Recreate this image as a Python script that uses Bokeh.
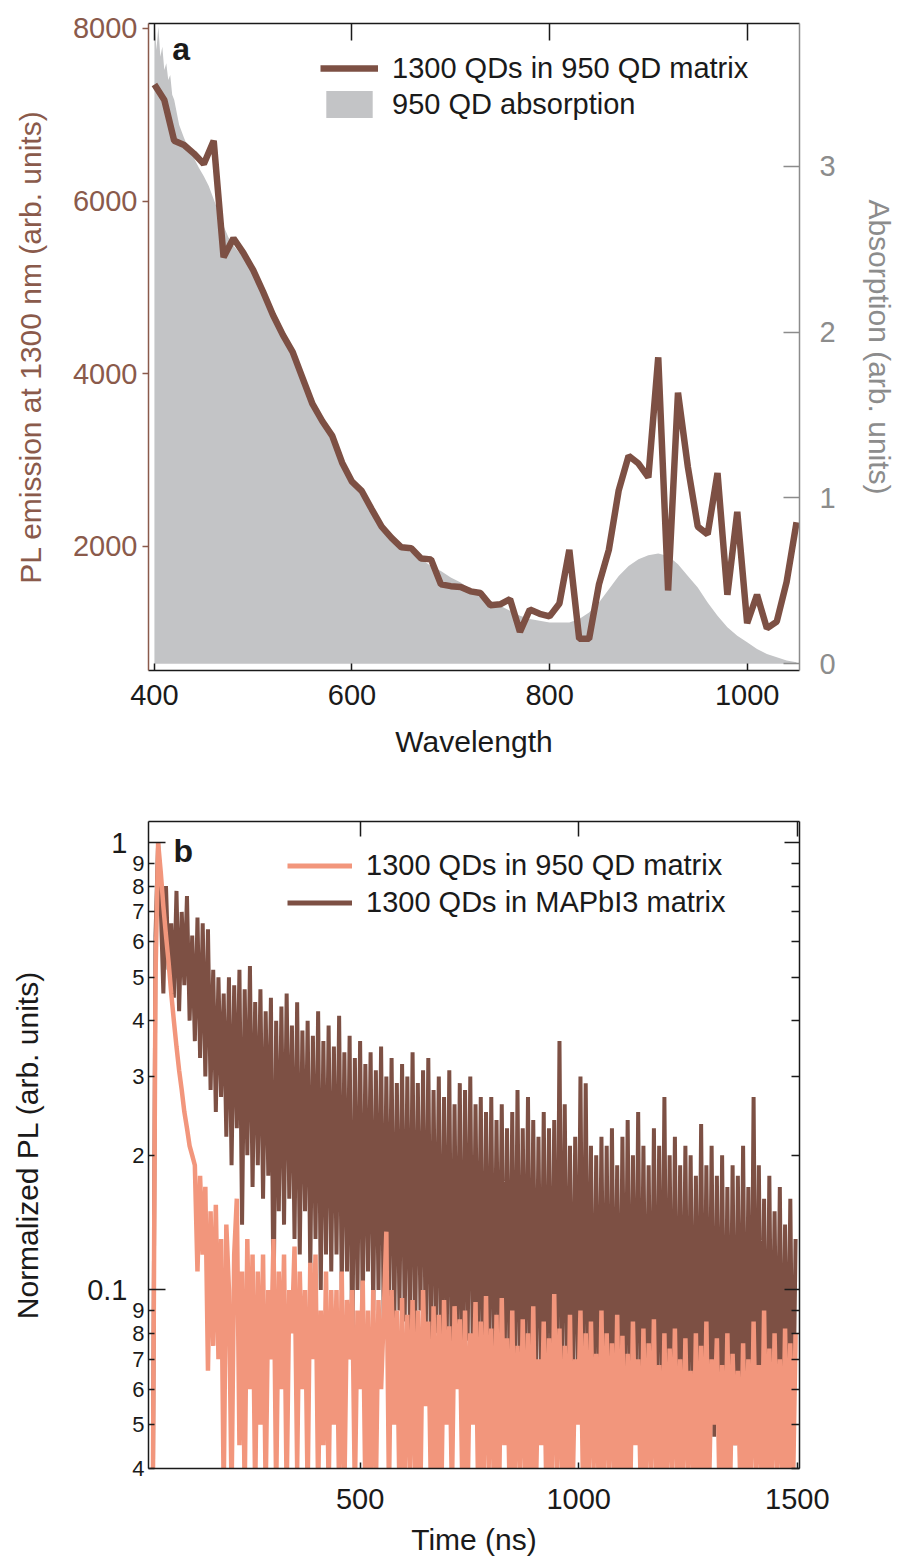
import numpy as np
from bokeh.plotting import figure
from bokeh.models import (Range1d, LinearAxis, LogAxis, FixedTicker, CustomJSTickFormatter,
                          Legend, LegendItem, Label, CustomLabelingPolicy)
from bokeh.layouts import column
from bokeh.embed import file_html
from bokeh.resources import INLINE

# ---------------- data: panel a ----------------
pl_wavelength = [400, 410, 420, 430, 440, 450, 460, 470, 480, 490,
                 500, 510, 520, 530, 540, 550, 560, 570, 580, 590,
                 600, 610, 620, 630, 640, 650, 660, 670, 680, 690,
                 700, 710, 720, 730, 740, 750, 760, 770, 780, 790,
                 800, 810, 820, 830, 840, 850, 860, 870, 880, 890,
                 900, 910, 920, 930, 940, 950, 960, 970, 980, 990,
                 1000, 1010, 1020, 1030, 1040, 1050]
pl_emission = [7350, 7170, 6700, 6650, 6550, 6430, 6700, 5350, 5570, 5400,
               5200, 4950, 4680, 4450, 4250, 3950, 3650, 3450, 3280, 2970,
               2750, 2640, 2430, 2230, 2100, 1990, 1980, 1860, 1850, 1560,
               1540, 1530, 1480, 1460, 1320, 1330, 1390, 1010, 1270, 1220,
               1190, 1340, 1960, 930, 930, 1560, 1960, 2650, 3050, 2960,
               2800, 4190, 1490, 3780, 2920, 2230, 2140, 2850, 1440, 2400,
               1110, 1440, 1050, 1130, 1590, 2280]

abs_wavelength = [400, 402, 404, 406, 408, 410, 412, 414, 416, 418,
                  420, 425, 430, 435, 440, 445, 450, 455, 460, 465,
                  470, 475, 480, 490, 500, 510, 520, 530, 540, 550,
                  560, 570, 580, 590, 600, 610, 620, 630, 640, 650,
                  660, 670, 680, 690, 700, 710, 720, 730, 740, 750,
                  760, 770, 780, 790, 800, 810, 820, 830, 840, 850,
                  860, 870, 880, 890, 900, 910, 920, 930, 940, 950,
                  960, 970, 980, 990, 1000, 1010, 1020, 1030, 1040, 1050]
absorption = [3.90, 3.70, 3.84, 3.66, 3.72, 3.58, 3.62, 3.52, 3.55, 3.43,
              3.40, 3.25, 3.17, 3.10, 3.05, 2.99, 2.94, 2.88, 2.80, 2.72,
              2.64, 2.57, 2.52, 2.45, 2.36, 2.25, 2.14, 2.02, 1.89, 1.73,
              1.58, 1.46, 1.36, 1.23, 1.12, 1.02, 0.91, 0.84, 0.78, 0.72,
              0.67, 0.63, 0.59, 0.56, 0.52, 0.49, 0.45, 0.41, 0.38, 0.35,
              0.32, 0.29, 0.27, 0.26, 0.25, 0.25, 0.25, 0.27, 0.31, 0.37,
              0.45, 0.53, 0.59, 0.63, 0.655, 0.665, 0.65, 0.60, 0.53, 0.46,
              0.37, 0.29, 0.22, 0.17, 0.13, 0.09, 0.06, 0.04, 0.02, 0.01]

# ---------------- data: panel b ----------------
pl_mapbi3 = [
    0.035, 0.035, 0.62, 1.0, 0.72, 0.46, 0.80, 0.52, 0.66, 0.45,
    0.78, 0.42, 0.70, 0.48, 0.76, 0.40, 0.62, 0.36, 0.68, 0.33,
    0.66, 0.30, 0.64, 0.28, 0.52, 0.25, 0.50, 0.27, 0.46, 0.22,
    0.50, 0.19, 0.48, 0.23, 0.52, 0.14, 0.47, 0.20, 0.53, 0.17,
    0.44, 0.19, 0.47, 0.16, 0.42, 0.18, 0.45, 0.09, 0.40, 0.15,
    0.43, 0.14, 0.46, 0.16, 0.39, 0.13, 0.44, 0.12, 0.38, 0.15,
    0.40, 0.11, 0.37, 0.13, 0.42, 0.10, 0.36, 0.12, 0.39, 0.11,
    0.35, 0.12, 0.41, 0.10, 0.34, 0.11, 0.37, 0.07, 0.33, 0.10,
    0.36, 0.09, 0.32, 0.11, 0.34, 0.09, 0.31, 0.10, 0.35, 0.085,
    0.30, 0.095, 0.33, 0.08, 0.29, 0.09, 0.32, 0.085, 0.30, 0.08,
    0.34, 0.08, 0.29, 0.09, 0.31, 0.075, 0.33, 0.07, 0.28, 0.08,
    0.30, 0.065, 0.27, 0.075, 0.31, 0.06, 0.26, 0.07, 0.29, 0.057,
    0.28, 0.077, 0.30, 0.065, 0.26, 0.07, 0.27, 0.06, 0.25, 0.068,
    0.27, 0.062, 0.24, 0.07, 0.26, 0.06, 0.23, 0.065, 0.25, 0.058,
    0.28, 0.06, 0.23, 0.066, 0.27, 0.055, 0.24, 0.062, 0.22, 0.06,
    0.25, 0.058, 0.23, 0.06, 0.24, 0.055, 0.36, 0.058, 0.26, 0.062,
    0.21, 0.057, 0.22, 0.06, 0.30, 0.055, 0.29, 0.06, 0.21, 0.052,
    0.20, 0.058, 0.22, 0.055, 0.21, 0.05, 0.23, 0.056, 0.19, 0.053,
    0.22, 0.054, 0.24, 0.052, 0.20, 0.056, 0.25, 0.05, 0.21, 0.055,
    0.19, 0.052, 0.23, 0.05, 0.21, 0.055, 0.27, 0.05, 0.20, 0.053,
    0.22, 0.05, 0.19, 0.054, 0.21, 0.048, 0.20, 0.052, 0.18, 0.05,
    0.235, 0.048, 0.19, 0.052, 0.21, 0.047, 0.18, 0.05, 0.20, 0.046,
    0.17, 0.05, 0.19, 0.045, 0.18, 0.05, 0.21, 0.046, 0.17, 0.048,
    0.27, 0.045, 0.19, 0.05, 0.16, 0.044, 0.18, 0.048, 0.15, 0.046,
    0.17, 0.045, 0.14, 0.05, 0.16, 0.043, 0.13]

pl_950 = [
    0.035, 0.035, 0.5, 1.0, 0.86, 0.72, 0.62, 0.54, 0.46, 0.40,
    0.35, 0.31, 0.28, 0.25, 0.23, 0.21, 0.20, 0.19, 0.11, 0.18,
    0.12, 0.17, 0.066, 0.15, 0.075, 0.155, 0.07, 0.13, 0.035, 0.14,
    0.10, 0.035, 0.12, 0.16, 0.045, 0.11, 0.035, 0.13, 0.06, 0.12,
    0.035, 0.11, 0.05, 0.12, 0.035, 0.10, 0.07, 0.13, 0.035, 0.11,
    0.06, 0.12, 0.035, 0.10, 0.08, 0.125, 0.04, 0.11, 0.06, 0.10,
    0.035, 0.115, 0.07, 0.12, 0.035, 0.09, 0.045, 0.11, 0.035, 0.10,
    0.05, 0.10, 0.035, 0.11, 0.035, 0.095, 0.07, 0.10, 0.035, 0.09,
    0.06, 0.105, 0.035, 0.09, 0.035, 0.10, 0.035, 0.095, 0.06, 0.088,
    0.135, 0.035, 0.10, 0.05, 0.09, 0.035, 0.096, 0.035, 0.088, 0.04,
    0.095, 0.035, 0.09, 0.035, 0.10, 0.055, 0.085, 0.035, 0.092, 0.035,
    0.088, 0.035, 0.095, 0.05, 0.083, 0.035, 0.092, 0.06, 0.086, 0.035,
    0.09, 0.035, 0.08, 0.05, 0.094, 0.035, 0.085, 0.035, 0.097, 0.04,
    0.082, 0.035, 0.088, 0.035, 0.096, 0.045, 0.078, 0.035, 0.09, 0.035,
    0.075, 0.04, 0.086, 0.035, 0.08, 0.035, 0.092, 0.035, 0.07, 0.045,
    0.085, 0.035, 0.078, 0.035, 0.098, 0.04, 0.082, 0.035, 0.075, 0.035,
    0.088, 0.035, 0.07, 0.05, 0.09, 0.035, 0.08, 0.035, 0.085, 0.04,
    0.072, 0.035, 0.09, 0.035, 0.08, 0.04, 0.076, 0.035, 0.088, 0.035,
    0.079, 0.035, 0.072, 0.035, 0.085, 0.045, 0.07, 0.035, 0.082, 0.035,
    0.076, 0.04, 0.086, 0.035, 0.068, 0.035, 0.08, 0.035, 0.074, 0.04,
    0.082, 0.035, 0.07, 0.035, 0.078, 0.04, 0.066, 0.035, 0.08, 0.035,
    0.075, 0.035, 0.085, 0.035, 0.07, 0.05, 0.078, 0.035, 0.068, 0.035,
    0.08, 0.035, 0.072, 0.045, 0.066, 0.035, 0.076, 0.035, 0.07, 0.035,
    0.085, 0.04, 0.068, 0.035, 0.09, 0.035, 0.074, 0.035, 0.08, 0.04,
    0.07, 0.035, 0.082, 0.035, 0.076, 0.035, 0.08]

# time grid of the decay traces: 6 ns bins starting at 20 ns
time_ns = list(np.arange(20, 20 + 6 * len(pl_950), 6))

x_ticks_a = [400, 600, 800, 1000]
pl_ticks = [2000, 4000, 6000, 8000]
abs_ticks = [0, 1, 2, 3]
x_ticks_b = [500, 1000, 1500]
log_digit_ticks = [0.04, 0.05, 0.06, 0.07, 0.08, 0.09,
                   0.2, 0.3, 0.4, 0.5, 0.6, 0.7, 0.8, 0.9]
log_decade_ticks = [0.1, 1.0]

# ---------------- styles ----------------
FONT = "Liberation Sans"
BROWN = "#7D5044"
BROWN_TXT = "#8A5A4B"
GRAY_AX = "#8C8C8C"
GRAY_FILL = "#C3C4C6"
SALMON = "#F2967C"
BLACK = "#1a1a1a"
TICK_FS = "29px"
TITLE_FS = "30px"


def style_axis(ax, color=BLACK, tick_in=0, tick_out=0, label_fs=TICK_FS,
               standoff=8, title_standoff=10, hide_labels=False, text_color=None):
    ax.axis_line_color = color
    ax.axis_line_width = 1.5
    ax.major_tick_line_color = color
    ax.major_tick_line_width = 1.5
    ax.minor_tick_line_color = color
    ax.minor_tick_line_width = 1.5
    ax.major_tick_in = tick_in
    ax.major_tick_out = tick_out
    ax.minor_tick_in = 0
    ax.minor_tick_out = 0
    ax.major_label_text_font = FONT
    ax.major_label_text_color = text_color or color
    ax.major_label_standoff = standoff
    ax.major_label_text_font_size = label_fs
    ax.axis_label_text_font = FONT
    ax.axis_label_text_font_size = TITLE_FS
    ax.axis_label_text_font_style = "normal"
    ax.axis_label_text_color = text_color or color
    ax.axis_label_standoff = title_standoff
    if hide_labels:
        ax.major_label_policy = CustomLabelingPolicy(code="return []")
        ax.major_label_standoff = 0


# ================= panel a =================
p1 = figure(width=898, height=760, x_range=Range1d(394, 1053), y_range=Range1d(563, 8057),
            output_backend="svg", toolbar_location=None,
            x_axis_location=None, y_axis_location=None,
            min_border_left=148, min_border_right=98, min_border_top=18, min_border_bottom=90)
p1.grid.visible = False
p1.outline_line_color = None
p1.background_fill_color = "white"
p1.border_fill_color = "white"
p1.extra_y_ranges = {"abs": Range1d(-0.04, 3.86)}

va = p1.varea(x=abs_wavelength, y1=0, y2=absorption, y_range_name="abs",
              fill_color=GRAY_FILL, fill_alpha=1.0)
l1 = p1.line(pl_wavelength, pl_emission, line_width=6.5, line_color=BROWN)

xb = LinearAxis(ticker=FixedTicker(ticks=x_ticks_a), axis_label="Wavelength")
style_axis(xb, tick_in=7, standoff=14, title_standoff=17)
p1.add_layout(xb, "below")

xt = LinearAxis(ticker=FixedTicker(ticks=x_ticks_a))
style_axis(xt, tick_in=17, hide_labels=True)
p1.add_layout(xt, "above")

yl = LinearAxis(ticker=FixedTicker(ticks=pl_ticks),
                axis_label="PL emission at 1300 nm (arb. units)")
style_axis(yl, color=BROWN_TXT, tick_out=6, standoff=5, title_standoff=23)
p1.add_layout(yl, "left")

yr = LinearAxis(y_range_name="abs", ticker=FixedTicker(ticks=abs_ticks),
                axis_label="Absorption (arb. units)")
style_axis(yr, color=GRAY_AX, tick_in=16, standoff=20, title_standoff=24)
p1.add_layout(yr, "right")

leg1 = Legend(items=[LegendItem(label="1300 QDs in 950 QD matrix", renderers=[l1]),
                     LegendItem(label="950 QD absorption", renderers=[va])],
              location=(172, 549))
leg1.border_line_color = None
leg1.background_fill_alpha = 0
leg1.padding = 0
leg1.margin = 0
leg1.spacing = 2
leg1.glyph_width = 58
leg1.glyph_height = 34
leg1.label_height = 34
leg1.label_standoff = 14
leg1.label_text_font = FONT
leg1.label_text_font_size = "29px"
leg1.label_text_color = BLACK
p1.add_layout(leg1)

p1.add_layout(Label(x=418, y=7757, text="a", text_font=FONT, text_font_size="32px",
                    text_font_style="bold", text_color=BLACK, text_baseline="alphabetic"))

# ================= panel b =================
p2 = figure(width=898, height=798, x_range=Range1d(16, 1505), y_range=Range1d(0.0399, 1.115),
            y_axis_type="log", output_backend="svg", toolbar_location=None,
            x_axis_location=None, y_axis_location=None,
            min_border_left=148, min_border_right=98, min_border_top=61, min_border_bottom=90)
p2.grid.visible = False
p2.outline_line_color = None
p2.background_fill_color = "white"
p2.border_fill_color = "white"

r_brown = p2.line(time_ns, pl_mapbi3, line_width=4, line_color=BROWN)
r_salmon = p2.line(time_ns, pl_950, line_width=4.5, line_color=SALMON)
# legend samples (no visible data)
d_salmon = p2.line(x=[np.nan], y=[np.nan], line_width=5, line_color=SALMON)
d_brown = p2.line(x=[np.nan], y=[np.nan], line_width=5, line_color=BROWN)

xb2 = LinearAxis(ticker=FixedTicker(ticks=x_ticks_b), axis_label="Time (ns)")
style_axis(xb2, tick_in=6, standoff=20, title_standoff=11)
p2.add_layout(xb2, "below")

xt2 = LinearAxis(ticker=FixedTicker(ticks=x_ticks_b))
style_axis(xt2, tick_in=15, hide_labels=True)
p2.add_layout(xt2, "above")

digit_fmt = CustomJSTickFormatter(code="""
    const d = tick >= 0.15 ? Math.round(tick * 10) : Math.round(tick * 100);
    return String(d);
""")
decade_fmt = CustomJSTickFormatter(code="return tick > 0.5 ? '1' : '0.1';")

yl_in = LogAxis(ticker=FixedTicker(ticks=log_digit_ticks, minor_ticks=log_decade_ticks),
                formatter=digit_fmt)
style_axis(yl_in, tick_in=6, standoff=4, label_fs="22px")
yl_in.minor_tick_in = 17
p2.add_layout(yl_in, "left")

yl_out = LogAxis(ticker=FixedTicker(ticks=log_decade_ticks), formatter=decade_fmt,
                 axis_label="Normalized PL (arb. units)")
style_axis(yl_out, standoff=2, title_standoff=40)
yl_out.axis_line_color = None
yl_out.major_tick_line_color = None
p2.add_layout(yl_out, "left")

yr2 = LogAxis(ticker=FixedTicker(ticks=log_digit_ticks, minor_ticks=log_decade_ticks))
style_axis(yr2, tick_in=8, hide_labels=True)
yr2.minor_tick_in = 15
p2.add_layout(yr2, "right")

leg2 = Legend(items=[LegendItem(label="1300 QDs in 950 QD matrix", renderers=[d_salmon]),
                     LegendItem(label="1300 QDs in MAPbI3 matrix", renderers=[d_brown])],
              location=(139, 548))
leg2.border_line_color = None
leg2.background_fill_alpha = 0
leg2.padding = 0
leg2.margin = 0
leg2.spacing = 2
leg2.glyph_width = 65
leg2.glyph_height = 35
leg2.label_height = 35
leg2.label_standoff = 14
leg2.label_text_font = FONT
leg2.label_text_font_size = "29px"
leg2.label_text_color = BLACK
p2.add_layout(leg2)

p2.add_layout(Label(x=73, y=0.96, text="b", text_font=FONT, text_font_size="32px",
                    text_font_style="bold", text_color=BLACK, text_baseline="alphabetic"))

layout = column(p1, p2)
open("out.html", "w").write(file_html(layout, INLINE))
